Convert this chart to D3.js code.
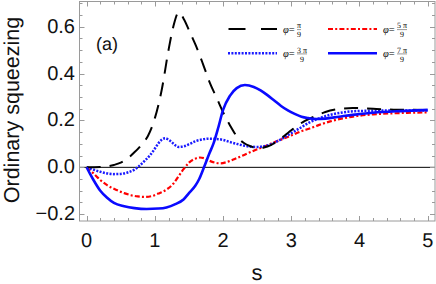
<!DOCTYPE html>
<html><head><meta charset="utf-8">
<script src="https://cdn.jsdelivr.net/npm/d3@7"></script>
<style>body{margin:0;background:#fff}svg{display:block}text{text-rendering:geometricPrecision}</style>
</head><body>
<svg id="c" width="436" height="284"></svg>
<script>
// ---- data ----
const sBlack = [0,0.2,0.4,0.5,0.6,0.7,0.8,0.9,1.0,1.1,1.2,1.27,1.35,1.43,1.5,1.6,1.7,1.8,1.9,2.0,2.1,2.2,2.3,2.4,2.5,2.6,2.7,2.8,2.9,3.0,3.1,3.2,3.35,3.5,3.7,3.9,4.2,4.5,5.0];
const vBlack = [0,0.001,0.01,0.02,0.038,0.064,0.095,0.135,0.21,0.33,0.5,0.6,0.661,0.63,0.585,0.52,0.445,0.365,0.3,0.235,0.18,0.133,0.105,0.09,0.082,0.085,0.095,0.113,0.135,0.158,0.18,0.198,0.218,0.236,0.249,0.253,0.25,0.246,0.245];

const sDot = [0,0.1,0.2,0.3,0.4,0.5,0.6,0.7,0.76,0.85,0.93,1.0,1.05,1.1,1.15,1.2,1.25,1.3,1.35,1.42,1.51,1.6,1.7,1.78,1.9,2.0,2.1,2.2,2.3,2.4,2.5,2.6,2.7,2.8,2.9,3.0,3.13,3.27,3.4,3.57,3.75,3.96,4.3,4.7,5.0];
const vDot = [0,-0.01,-0.019,-0.026,-0.029,-0.028,-0.022,-0.01,0.003,0.028,0.052,0.08,0.102,0.118,0.124,0.118,0.107,0.094,0.087,0.089,0.1,0.112,0.119,0.122,0.121,0.117,0.108,0.1,0.093,0.088,0.087,0.09,0.098,0.112,0.128,0.146,0.168,0.192,0.208,0.224,0.234,0.24,0.242,0.243,0.243];

const sRed = [0,0.1,0.2,0.3,0.44,0.55,0.65,0.75,0.85,0.95,1.05,1.17,1.27,1.35,1.42,1.5,1.6,1.66,1.73,1.8,1.88,1.96,2.05,2.15,2.3,2.45,2.6,2.75,2.9,3.0,3.13,3.27,3.4,3.57,3.76,3.96,4.2,4.45,4.75,5.0];
const vRed = [0,-0.026,-0.054,-0.076,-0.097,-0.11,-0.119,-0.124,-0.126,-0.123,-0.112,-0.095,-0.07,-0.037,-0.008,0.02,0.038,0.042,0.038,0.028,0.02,0.017,0.022,0.033,0.052,0.071,0.088,0.107,0.124,0.136,0.152,0.166,0.18,0.196,0.209,0.219,0.226,0.23,0.233,0.235];

const sBlue = [0,0.05,0.1,0.2,0.3,0.4,0.55,0.7,0.88,1.05,1.17,1.3,1.42,1.5,1.59,1.65,1.72,1.8,1.86,1.93,2.0,2.1,2.2,2.32,2.45,2.55,2.65,2.75,2.85,2.95,3.05,3.15,3.25,3.37,3.5,3.7,3.9,4.2,4.6,5.0];
const vBlue = [0,-0.028,-0.054,-0.1,-0.13,-0.152,-0.166,-0.174,-0.178,-0.176,-0.171,-0.157,-0.137,-0.11,-0.08,-0.05,0,0.06,0.102,0.17,0.245,0.305,0.338,0.351,0.343,0.328,0.308,0.285,0.262,0.243,0.228,0.216,0.21,0.206,0.208,0.216,0.224,0.233,0.24,0.245];

const xTicks = [0,1,2,3,4,5];
const yTicks = [-0.2,0.0,0.2,0.4,0.6];
const legendNums = ["\u03c0","3 \u03c0","5 \u03c0","7 \u03c0"];
const legendDen = "9";

// ---- layout ----
const svg = d3.select("#c");
const L = 79.5, R = 435, T = 1.5, B = 221;
const x = d3.scaleLinear().domain([-0.105, 5.107]).range([L, R]);
const y = d3.scaleLinear().domain([-0.229, 0.7076]).range([B, T]);
const frameCol = "#9a9a9a";

// zero line
svg.append("line").attr("x1", L).attr("x2", R).attr("y1", y(0)).attr("y2", y(0))
  .attr("stroke", "#000").attr("stroke-width", 1);

// series
const series = [
  {s: sBlack, v: vBlack, color: "#000", w: 2, dash: "14,9"},
  {s: sDot, v: vDot, color: "#1a1aff", w: 2.5, dash: "2,1.4"},
  {s: sRed, v: vRed, color: "#ff0000", w: 2.2, dash: "5,2.2,2,2.2"},
  {s: sBlue, v: vBlue, color: "#0a0aff", w: 2.6, dash: null}
];
const line = d3.line().x(d => x(d[0])).y(d => y(d[1])).curve(d3.curveMonotoneX);
svg.append("clipPath").attr("id","cp").append("rect")
  .attr("x", L).attr("y", T).attr("width", R - L).attr("height", B - T);
const g = svg.append("g").attr("clip-path","url(#cp)");
[2,1,0,3].forEach(i => {
  const se = series[i];
  const p = g.append("path").datum(se.s.map((s, k) => [s, se.v[k]]))
    .attr("d", line).attr("fill", "none").attr("stroke", se.color)
    .attr("stroke-width", se.w).attr("stroke-linejoin","round");
  if (se.dash) p.attr("stroke-dasharray", se.dash);
});

// frame
svg.append("rect").attr("x", L).attr("y", T).attr("width", R - L).attr("height", B - T)
  .attr("fill", "none").attr("stroke", frameCol).attr("stroke-width", 1);

// ticks
const xMinor = d3.range(0, 5.0001, 0.2);
const yMinor = d3.range(-0.2, 0.70001, 0.05);
const tg = svg.append("g").attr("stroke", frameCol).attr("stroke-width", 1);
xMinor.forEach(v => {
  const major = Math.abs(v - Math.round(v)) < 1e-6;
  const len = major ? 5 : 3;
  const px = Math.round(x(v)) + 0.5;
  tg.append("line").attr("x1", px).attr("x2", px).attr("y1", B).attr("y2", B - len);
  tg.append("line").attr("x1", px).attr("x2", px).attr("y1", T).attr("y2", T + len);
});
yMinor.forEach(v => {
  const major = Math.abs(v * 5 - Math.round(v * 5)) < 1e-6;
  const len = major ? 5 : 3;
  const py = Math.round(y(v)) + 0.5;
  tg.append("line").attr("x1", L).attr("x2", L + len).attr("y1", py).attr("y2", py);
  tg.append("line").attr("x1", R).attr("x2", R - len).attr("y1", py).attr("y2", py);
});

// tick labels
const font = "Liberation Sans, Arial, sans-serif";
xTicks.forEach(v => {
  svg.append("text").attr("x", x(v)).attr("y", 247).attr("text-anchor", "middle")
    .attr("font-family", font).attr("font-size", 20).attr("fill", "#111").text(d3.format("d")(v));
});
yTicks.forEach(v => {
  svg.append("text").attr("x", 75).attr("y", y(v)).attr("text-anchor", "end")
    .attr("dominant-baseline", "central")
    .attr("font-family", font).attr("font-size", 20).attr("fill", "#111")
    .text(d3.format(".1f")(v).replace("-", "\u2212"));
});

// axis labels
svg.append("text").attr("x", 257).attr("y", 280).attr("text-anchor", "middle")
  .attr("font-family", font).attr("font-size", 22).attr("fill", "#111").text("s");
svg.append("text").attr("transform", "translate(18.5,110) rotate(-90)").attr("text-anchor", "middle")
  .attr("font-family", font).attr("font-size", 21.5).attr("fill", "#111").text("Ordinary squeezing");
svg.append("text").attr("x", 96).attr("y", 50).attr("font-family", font)
  .attr("font-size", 18).attr("fill", "#111").text("(a)");

// legend
const legPos = [
  {lx: 228, ly: 29, tx: 283},
  {lx: 228, ly: 53.3, tx: 283},
  {lx: 328, ly: 29, tx: 383},
  {lx: 328, ly: 53.3, tx: 383}
];
const serif = "Liberation Serif, Times New Roman, serif";
series.forEach((se, i) => {
  const p = legPos[i];
  const ln = svg.append("line").attr("x1", p.lx).attr("x2", p.lx + 49).attr("y1", p.ly).attr("y2", p.ly)
    .attr("stroke", se.color).attr("stroke-width", se.w);
  if (se.dash) ln.attr("stroke-dasharray", i === 0 ? "0,0.5,17,15" : se.dash);
  const t = svg.append("text").attr("x", p.tx).attr("y", p.ly + 3.5)
    .attr("font-family", serif).attr("font-size", 10.5).attr("fill", "#000");
  t.append("tspan").attr("font-style","italic").text("\u03c6");
  t.append("tspan").text("=");
  const fx = p.tx + 14;
  const num = svg.append("text").attr("x", fx).attr("y", p.ly - 0.8)
    .attr("font-family", serif).attr("font-size", 8).attr("fill", "#000").text(legendNums[i]);
  const wN = num.node().getComputedTextLength();
  svg.append("line").attr("x1", fx).attr("x2", fx + wN).attr("y1", p.ly + 0.6).attr("y2", p.ly + 0.6)
    .attr("stroke", "#333").attr("stroke-width", 0.5);
  svg.append("text").attr("x", fx + wN / 2).attr("y", p.ly + 8.3).attr("text-anchor", "middle")
    .attr("font-family", serif).attr("font-size", 8).attr("fill", "#000").text(legendDen);
});
</script>
</body></html>
